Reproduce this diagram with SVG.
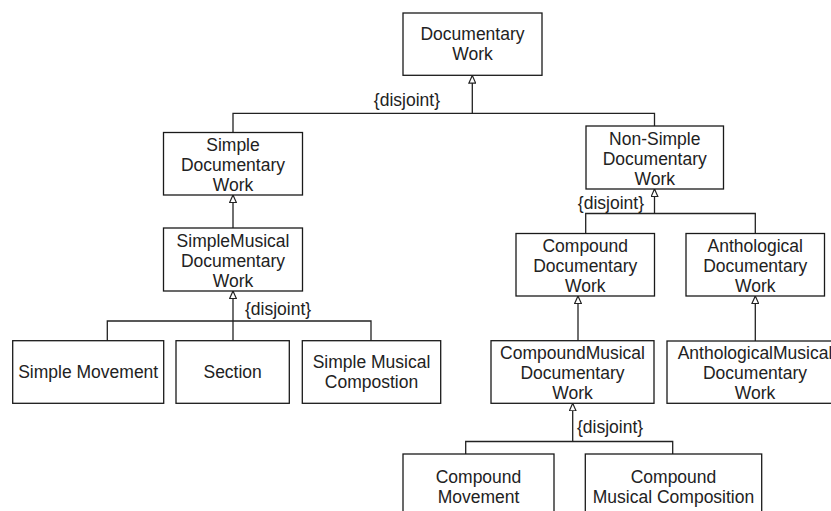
<svg xmlns="http://www.w3.org/2000/svg" width="831" height="511" viewBox="0 0 831 511">
<style>
.box{fill:#fff;stroke:#1a1a1a;stroke-width:1.3}
.t{font-family:"Liberation Sans",Arial,Helvetica,sans-serif;font-size:17.5px;fill:#222;text-anchor:middle}
.lbl{font-family:"Liberation Sans",Arial,Helvetica,sans-serif;font-size:17.5px;fill:#222}
.ln{fill:none;stroke:#222;stroke-width:1.3}
</style>
<defs>
<marker id="gen" viewBox="0 0 10 10" refX="10" refY="5" markerWidth="8" markerHeight="8" orient="auto" markerUnits="userSpaceOnUse">
<path d="M0.5,0.8 L10,5 L0.5,9.2 z" fill="#fff" stroke="#222" stroke-width="1.5"/>
</marker>
</defs>
<rect width="831" height="511" fill="#fff"/>
<g id="connectors">
<path class="ln" d="M233,132.5 V113.3 H654.5 V126"/>
<path class="ln" d="M472.3,113.3 V75.5" marker-end="url(#gen)"/>
<path class="ln" d="M233,228 V195" marker-end="url(#gen)"/>
<path class="ln" d="M585.7,233.5 V213.5 H755.3 V233.5"/>
<path class="ln" d="M654.5,213.5 V189" marker-end="url(#gen)"/>
<path class="ln" d="M578,340.7 V296" marker-end="url(#gen)"/>
<path class="ln" d="M755.3,341 V296" marker-end="url(#gen)"/>
<path class="ln" d="M107.3,340.7 V321 H371 V340.7"/>
<path class="ln" d="M233,340.7 V291" marker-end="url(#gen)"/>
<path class="ln" d="M465.7,454 V441.5 H672.7 V454"/>
<path class="ln" d="M572.7,441.5 V403.3" marker-end="url(#gen)"/>
<text class="lbl" x="440" y="106" text-anchor="end">{disjoint}</text>
<text class="lbl" x="644" y="209" text-anchor="end">{disjoint}</text>
<text class="lbl" x="245" y="315">{disjoint}</text>
<text class="lbl" x="577" y="433">{disjoint}</text>
</g>
<g id="documentary-work">
<rect class="box" x="403" y="13" width="139" height="62.3"/>
<text class="t" x="472.5" y="40">Documentary</text>
<text class="t" x="472.5" y="60">Work</text>
</g>
<g id="simple-documentary-work">
<rect class="box" x="163.5" y="132.5" width="139" height="62.5"/>
<text class="t" x="233" y="151">Simple</text>
<text class="t" x="233" y="171">Documentary</text>
<text class="t" x="233" y="191">Work</text>
</g>
<g id="non-simple-documentary-work">
<rect class="box" x="586" y="126" width="137.5" height="63"/>
<text class="t" x="654.75" y="145">Non-Simple</text>
<text class="t" x="654.75" y="165">Documentary</text>
<text class="t" x="654.75" y="185">Work</text>
</g>
<g id="simplemusical-documentary-work">
<rect class="box" x="163.5" y="228" width="139" height="63"/>
<text class="t" x="233" y="247">SimpleMusical</text>
<text class="t" x="233" y="267">Documentary</text>
<text class="t" x="233" y="287">Work</text>
</g>
<g id="compound-documentary-work">
<rect class="box" x="516" y="233.5" width="138.5" height="62.5"/>
<text class="t" x="585.25" y="252">Compound</text>
<text class="t" x="585.25" y="272">Documentary</text>
<text class="t" x="585.25" y="292">Work</text>
</g>
<g id="anthological-documentary-work">
<rect class="box" x="686" y="233.5" width="138.5" height="62.5"/>
<text class="t" x="755.25" y="252">Anthological</text>
<text class="t" x="755.25" y="272">Documentary</text>
<text class="t" x="755.25" y="292">Work</text>
</g>
<g id="simple-movement">
<rect class="box" x="12.7" y="340.7" width="151" height="62.6"/>
<text class="t" x="88.2" y="378">Simple Movement</text>
</g>
<g id="section">
<rect class="box" x="176" y="340.7" width="113.3" height="62.6"/>
<text class="t" x="232.65" y="378">Section</text>
</g>
<g id="simple-musical-compostion">
<rect class="box" x="302.3" y="340.7" width="138.4" height="62.6"/>
<text class="t" x="371.5" y="368">Simple Musical</text>
<text class="t" x="371.5" y="388">Compostion</text>
</g>
<g id="compoundmusical-documentary-work">
<rect class="box" x="491" y="340.7" width="163" height="62.6"/>
<text class="t" x="572.5" y="359">CompoundMusical</text>
<text class="t" x="572.5" y="379">Documentary</text>
<text class="t" x="572.5" y="399">Work</text>
</g>
<g id="anthologicalmusical-documentary-work">
<rect class="box" x="667" y="341" width="176" height="62.3"/>
<text class="t" x="755" y="359">AnthologicalMusical</text>
<text class="t" x="755" y="379">Documentary</text>
<text class="t" x="755" y="399">Work</text>
</g>
<g id="compound-movement">
<rect class="box" x="403" y="454" width="151" height="62.6"/>
<text class="t" x="478.5" y="483">Compound</text>
<text class="t" x="478.5" y="503">Movement</text>
</g>
<g id="compound-musical-composition">
<rect class="box" x="585.3" y="454" width="176.4" height="62.6"/>
<text class="t" x="673.5" y="483">Compound</text>
<text class="t" x="673.5" y="503">Musical Composition</text>
</g>
</svg>
